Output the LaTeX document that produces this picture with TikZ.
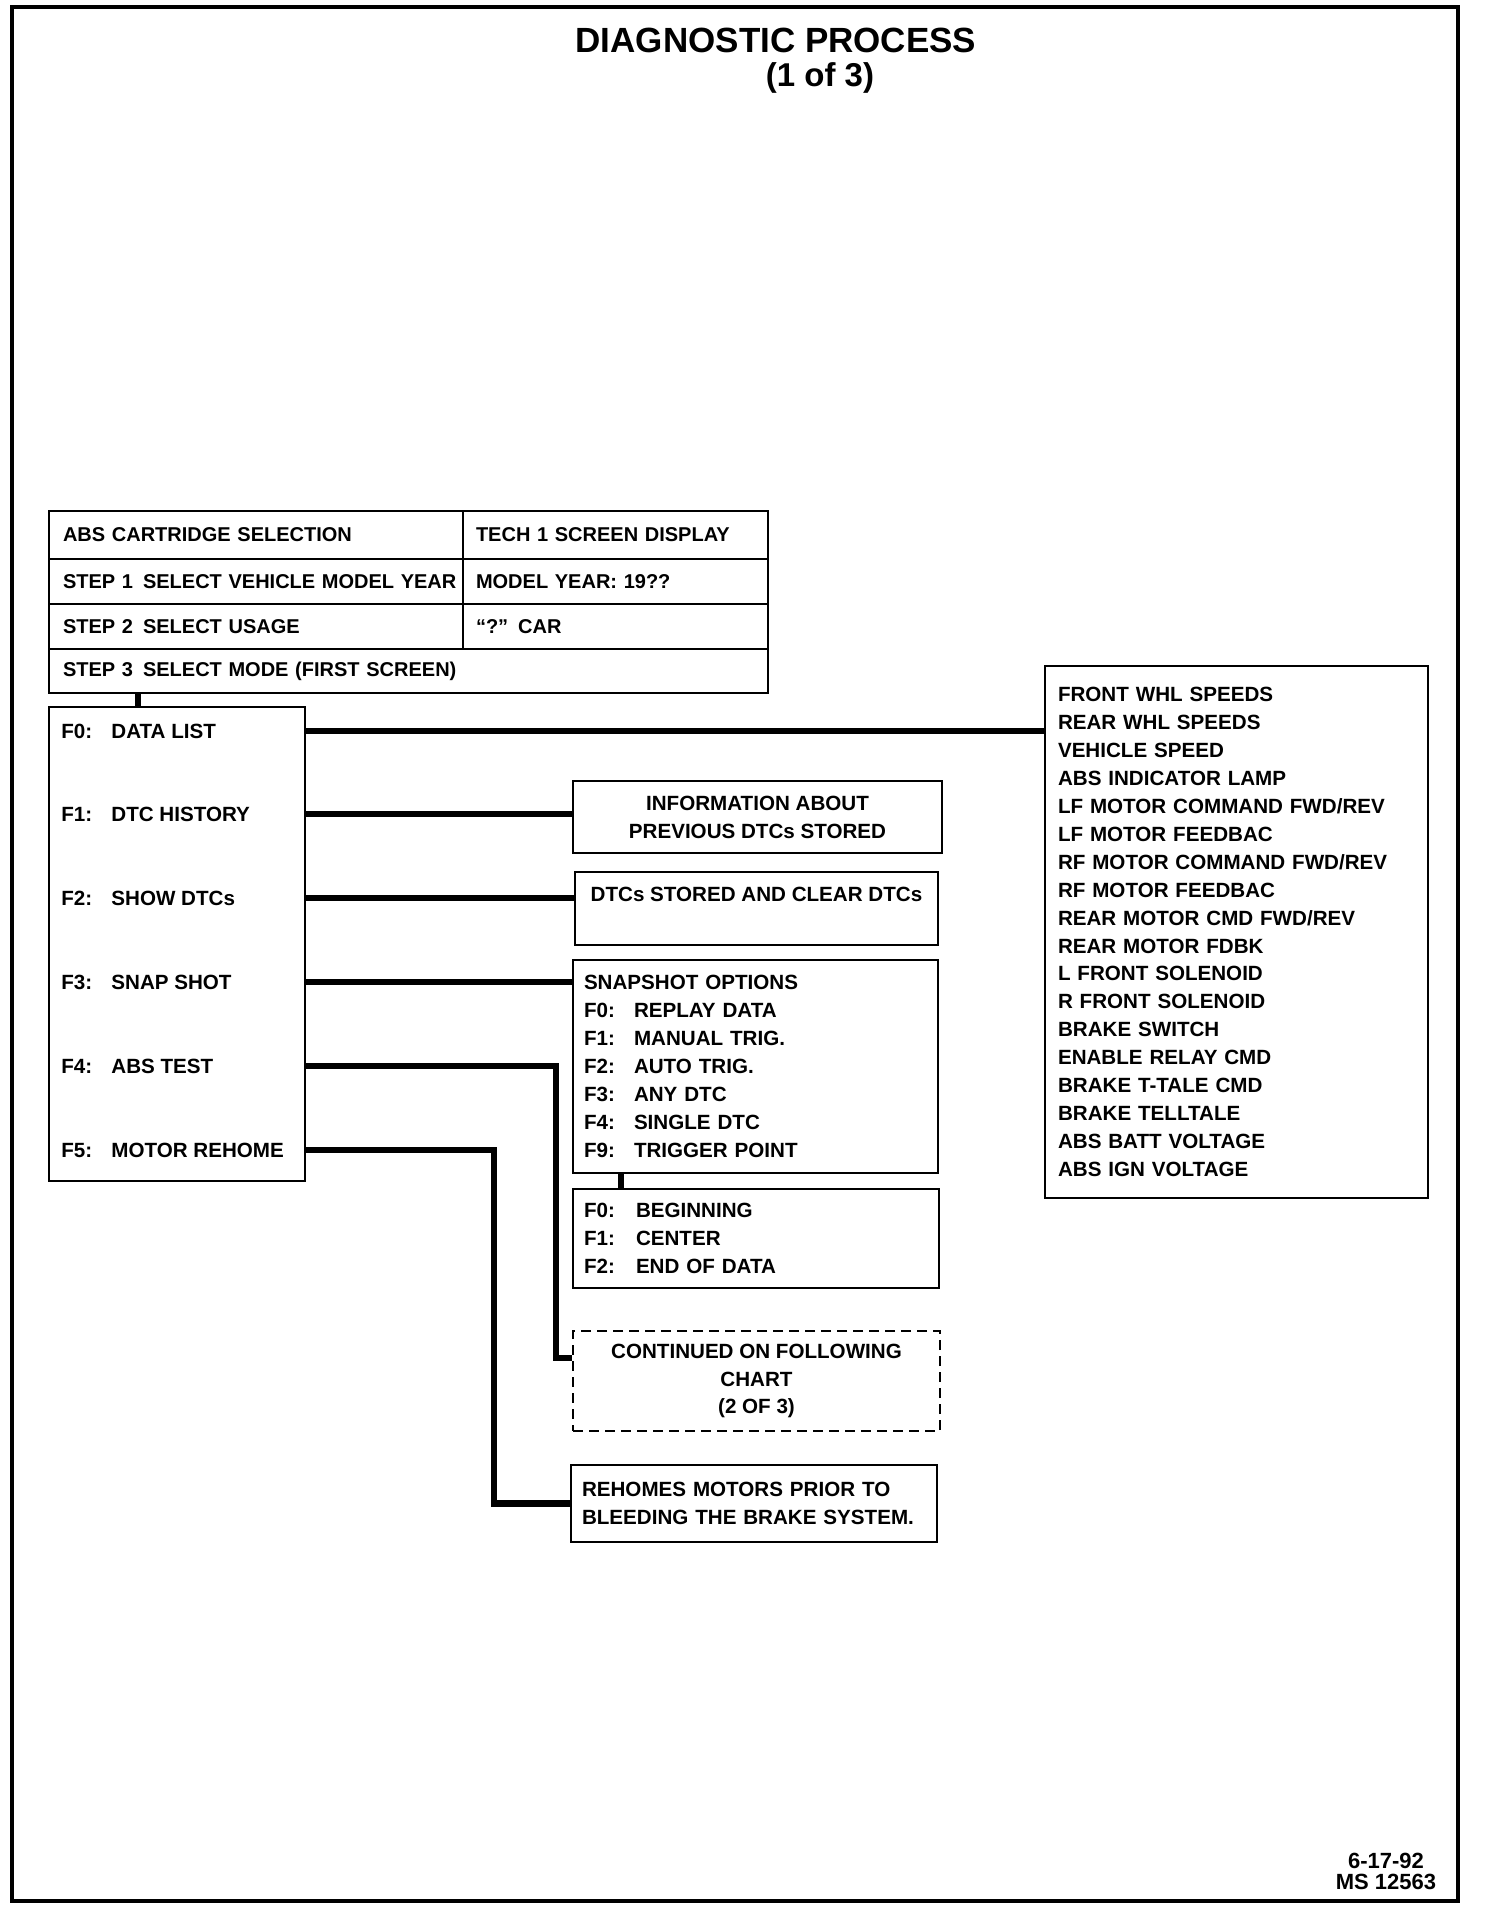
\documentclass[tikz,border=0pt]{standalone}
\usepackage{fontspec}
\setmainfont{Liberation Sans}
\usetikzlibrary{positioning}

\newcommand{\tecla}[2][25pt]{\makebox[#1][l]{#2}}

\begin{document}
\begin{tikzpicture}[x=0.5pt, y=-0.5pt, font=\bfseries]

    % Estilos para cajas y enlaces
    \tikzstyle{caja}=[draw, line width=1.4pt, inner sep=0pt, font=\bfseries\fontsize{10.3}{13.95}\selectfont]
    \tikzstyle{celda}=[caja, font=\bfseries\fontsize{10}{12}\selectfont, align=left, inner xsep=7pt]
    \tikzstyle{lista}=[caja, align=left]
    \tikzstyle{aviso}=[caja, align=center]
    \tikzstyle{opcion}=[anchor=west, inner sep=0pt, font=\bfseries\fontsize{10.3}{12}\selectfont]
    \tikzstyle{enlace}=[line width=3.4pt]

    \useasboundingbox (0,0) rectangle (1504,1912);
    \draw[line width=1.8pt] (12,7) rectangle (1458,1901);

    % Titulo
    \node (titulo) at (776,40) {\fontsize{17.5}{20}\selectfont DIAGNOSTIC PROCESS};
    \node (parte) at (820,78) {\fontsize{16.5}{20}\selectfont (1 of 3)};

    % Tabla de seleccion del cartucho
    \node[celda, text width=193pt, minimum height=24pt] (c11) at (256,535) {ABS CARTRIDGE SELECTION};
    \node[celda, text width=139.5pt, inner xsep=6.5pt, minimum height=24pt] (c12) at (615.5,535) {TECH 1 SCREEN DISPLAY};
    \node[celda, text width=193pt, minimum height=22.5pt] (c21) at (256,581.5) {\mbox{STEP 1\enspace SELECT VEHICLE MODEL YEAR}};
    \node[celda, text width=139.5pt, inner xsep=6.5pt, minimum height=22.5pt] (c22) at (615.5,581.5) {MODEL YEAR: 19??};
    \node[celda, text width=193pt, minimum height=22.5pt] (c31) at (256,626.5) {STEP 2\enspace SELECT USAGE};
    \node[celda, text width=139.5pt, inner xsep=6.5pt, minimum height=22.5pt] (c32) at (615.5,626.5) {“?” CAR};
    \node[celda, text width=345.5pt, minimum height=22pt] (c4) at (408.5,671) {STEP 3\enspace SELECT MODE (FIRST SCREEN)};

    % Menu principal
    \node[caja, minimum width=128pt, minimum height=237pt] (menu) at (177,944) {};
    \node[opcion] (f0) at (61,731) {\tecla{F0:}DATA LIST};
    \node[opcion] (f1) at (61,814) {\tecla{F1:}DTC HISTORY};
    \node[opcion] (f2) at (61,898) {\tecla{F2:}SHOW DTCs};
    \node[opcion] (f3) at (61,982) {\tecla{F3:}SNAP SHOT};
    \node[opcion] (f4) at (61,1066) {\tecla{F4:}ABS TEST};
    \node[opcion] (f5) at (61,1150) {\tecla{F5:}MOTOR REHOME};

    % Lista de datos
    \node[lista, text width=178.5pt, inner xsep=6.5pt, minimum height=266pt] (datos) at (1236.5,932) {%
        FRONT WHL SPEEDS\\ REAR WHL SPEEDS\\ VEHICLE SPEED\\ ABS INDICATOR LAMP\\
        LF MOTOR COMMAND FWD/REV\\ LF MOTOR FEEDBAC\\ RF MOTOR COMMAND FWD/REV\\
        RF MOTOR FEEDBAC\\ REAR MOTOR CMD FWD/REV\\ REAR MOTOR FDBK\\ L FRONT SOLENOID\\
        R FRONT SOLENOID\\ BRAKE SWITCH\\ ENABLE RELAY CMD\\ BRAKE T-TALE CMD\\
        BRAKE TELLTALE\\ ABS BATT VOLTAGE\\ ABS IGN VOLTAGE};

    % Cajas de respuesta
    \node[aviso, minimum width=184.5pt, minimum height=36pt] (info) at (757.5,817) {INFORMATION ABOUT\\ PREVIOUS DTCs STORED};
    \node[aviso, minimum width=181.5pt, minimum height=36.5pt] (dtcs) at (756.5,908.5) {DTCs STORED AND CLEAR DTCs\\ \phantom{X}};
    \node[lista, font=\bfseries\fontsize{10.3}{14}\selectfont, text width=171.5pt, inner xsep=5.5pt, minimum height=106.5pt] (snap) at (755.5,1066.5) {%
        SNAPSHOT OPTIONS\\ \tecla{F0:}REPLAY DATA\\ \tecla{F1:}MANUAL TRIG.\\ \tecla{F2:}AUTO TRIG.\\
        \tecla{F3:}ANY DTC\\ \tecla{F4:}SINGLE DTC\\ \tecla{F9:}TRIGGER POINT};
    \node[lista, font=\bfseries\fontsize{10.3}{14}\selectfont, text width=172pt, inner xsep=5.5pt, minimum height=49.5pt] (sub) at (756,1238.5) {%
        \tecla[26pt]{F0:}BEGINNING\\ \tecla[26pt]{F1:}CENTER\\ \tecla[26pt]{F2:}END OF DATA};
    \node[aviso, dashed, dash pattern=on 5pt off 3pt, minimum width=183.5pt, minimum height=50pt] (cont) at (756.5,1381) {CONTINUED ON FOLLOWING\\ CHART\\ (2 OF 3)};
    \node[lista, text width=172pt, inner xsep=5.5pt, minimum height=38.5pt] (rehome) at (754,1503.5) {REHOMES MOTORS PRIOR TO\\ BLEEDING THE BRAKE SYSTEM.};

    % Pie
    \node[align=center, font=\bfseries\fontsize{11}{10.5}\selectfont] (pie) at (1386,1871.5) {6-17-92\\ MS 12563};

    % Enlaces
    \coordinate (t1) at (138,0);
    \coordinate (t2) at (621,0);
    \coordinate (k4) at (556,1358);
    \coordinate (k5) at (494,0);
    \draw[enlace] (c4.south -| t1) -- (menu.north -| t1);
    \draw[enlace] (menu.east |- f0) -- (datos.west |- f0);
    \draw[enlace] (menu.east |- f1) -- (info.west |- f1);
    \draw[enlace] (menu.east |- f2) -- (dtcs.west |- f2);
    \draw[enlace] (menu.east |- f3) -- (snap.west |- f3);
    \draw[enlace] (menu.east |- f4) -| (k4) -- (cont.west |- k4);
    \draw[enlace] (menu.east |- f5) -| (k5 |- rehome.west) -- (rehome.west);
    \draw[enlace] (snap.south -| t2) -- (sub.north -| t2);
\end{tikzpicture}
\end{document}
